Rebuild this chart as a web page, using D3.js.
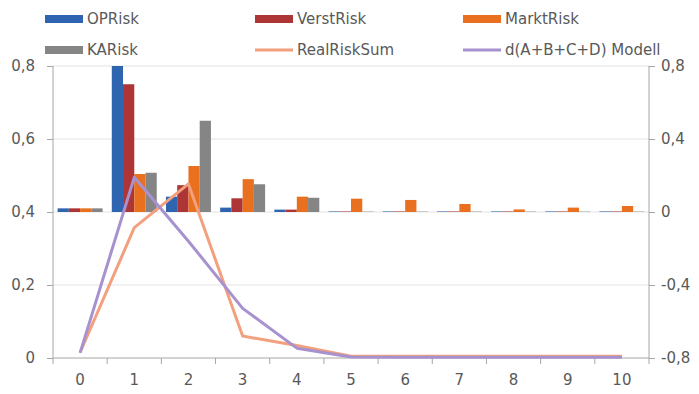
<!DOCTYPE html>
<html><head><meta charset="utf-8">
<script src="https://cdn.jsdelivr.net/npm/d3@7"></script>
<style>
body{margin:0;background:#fff;}
text{font-family:"DejaVu Sans",Arial,sans-serif;fill:#595959;}
</style></head>
<body><svg id="c" width="699" height="394"></svg>
<script>
const categories = [0,1,2,3,4,5,6,7,8,9,10];
const OPRisk    = [0.02,0.80,0.084,0.024,0.013,0.003,0.003,0.003,0.003,0.003,0.003];
const VerstRisk = [0.02,0.70,0.147,0.075,0.013,0.003,0.003,0.003,0.003,0.003,0.003];
const MarktRisk = [0.02,0.208,0.252,0.18,0.084,0.073,0.066,0.044,0.014,0.024,0.033];
const KARisk    = [0.02,0.215,0.50,0.152,0.078,0.002,0.002,0.002,0.002,0.002,0.002];
const RealRiskSum = [0.015,0.357,0.477,0.06,0.034,0.005,0.005,0.005,0.005,0.005,0.005];
const Modell      = [0.014,0.495,0.32,0.136,0.027,0.003,0.002,0.002,0.002,0.002,0.002];
const leftTicks  = [0,0.2,0.4,0.6,0.8];
const rightTicks = [-0.8,-0.4,0,0.4,0.8];

const barSeries = [
  {name:"OPRisk", values:OPRisk, color:"#2e64b0"},
  {name:"VerstRisk", values:VerstRisk, color:"#ad3535"},
  {name:"MarktRisk", values:MarktRisk, color:"#e8701f"},
  {name:"KARisk", values:KARisk, color:"#858585"}
];
const lineSeries = [
  {name:"RealRiskSum", values:RealRiskSum, color:"#f2a07e"},
  {name:"d(A+B+C+D) Modell", values:Modell, color:"#a792cf"}
];

const svg = d3.select("#c");
const L = 53, R = 649, T = 66, B = 358;
const x = d3.scaleBand().domain(categories).range([L,R]).padding(0);
const yL = d3.scaleLinear().domain([0,0.8]).range([B,T]);
const yR = d3.scaleLinear().domain([-0.8,0.8]).range([B,T]);
const bw = x.bandwidth();
const x1 = d3.scaleBand().domain(barSeries.map(s=>s.name)).range([bw*0.085, bw*0.915]).padding(0);
const fmt = d => String(+d.toFixed(1)).replace(".",",");

// gridlines
svg.append("g").selectAll("line").data(leftTicks.filter(t=>t>0)).join("line")
  .attr("x1",L).attr("x2",R).attr("y1",d=>yL(d)).attr("y2",d=>yL(d))
  .attr("stroke","#e3e3e3").attr("stroke-width",1);

// bars
const gb = svg.append("g");
barSeries.forEach(s=>{
  gb.append("g").selectAll("rect").data(categories).join("rect")
    .attr("x",(c)=>x(c)+x1(s.name))
    .attr("width",x1.bandwidth())
    .attr("y",(c,i)=>yR(Math.max(0,s.values[i])))
    .attr("height",(c,i)=>Math.abs(yR(0)-yR(s.values[i])))
    .attr("fill",s.color);
});

// axes
const axL = svg.append("g").attr("transform",`translate(${L},0)`)
  .call(d3.axisLeft(yL).tickValues(leftTicks).tickFormat(fmt).tickSize(6).tickPadding(12));
const axR = svg.append("g").attr("transform",`translate(${R},0)`)
  .call(d3.axisRight(yR).tickValues(rightTicks).tickFormat(fmt).tickSize(6).tickPadding(6));
const axB = svg.append("g").attr("transform",`translate(0,${B})`)
  .call(d3.axisBottom(x).tickSize(0).tickPadding(16));
// category boundary ticks
svg.append("g").selectAll("line").data(categories.concat([null])).join("line")
  .attr("x1",(c,i)=> i<categories.length ? x(c) : x(categories[categories.length-1])+bw)
  .attr("x2",(c,i)=> i<categories.length ? x(c) : x(categories[categories.length-1])+bw)
  .attr("y1",B).attr("y2",B+6).attr("stroke","#a6a6a6");
[axL,axR,axB].forEach(a=>{
  a.selectAll(".domain").attr("stroke","#a6a6a6");
  a.selectAll(".tick line").attr("stroke","#a6a6a6");
  a.selectAll("text").style("font-size","15px").attr("fill","#595959").style("font-family","DejaVu Sans, Arial, sans-serif");
});
axL.select(".domain").attr("d",`M0,${T}V${B}`);
axR.select(".domain").attr("d",`M0,${T}V${B}`);
axB.select(".domain").attr("d",`M${L},0H${R}`);

// lines
const line = d3.line().x((d,i)=>x(categories[i])+bw/2).y(d=>yL(d));
lineSeries.forEach(s=>{
  svg.append("path").datum(s.values).attr("d",line)
    .attr("fill","none").attr("stroke",s.color).attr("stroke-width",3)
    .attr("stroke-linejoin","round");
});

// legend
const legItems = [
  {s:barSeries[0],type:"bar",col:0,row:0},
  {s:barSeries[1],type:"bar",col:1,row:0},
  {s:barSeries[2],type:"bar",col:2,row:0},
  {s:barSeries[3],type:"bar",col:0,row:1},
  {s:lineSeries[0],type:"line",col:1,row:1},
  {s:lineSeries[1],type:"line",col:2,row:1}
];
const colX = [45,255,463], rowY = [19,50];
const lg = svg.append("g");
legItems.forEach(it=>{
  const gx = colX[it.col], gy = rowY[it.row];
  if(it.type==="bar"){
    lg.append("rect").attr("x",gx).attr("y",gy-4).attr("width",38).attr("height",8).attr("fill",it.s.color);
  } else {
    lg.append("line").attr("x1",gx).attr("x2",gx+38).attr("y1",gy).attr("y2",gy).attr("stroke",it.s.color).attr("stroke-width",3);
  }
  lg.append("text").attr("x",gx+42).attr("y",gy+5).style("font-size","15px").text(it.s.name);
});
</script></body></html>
